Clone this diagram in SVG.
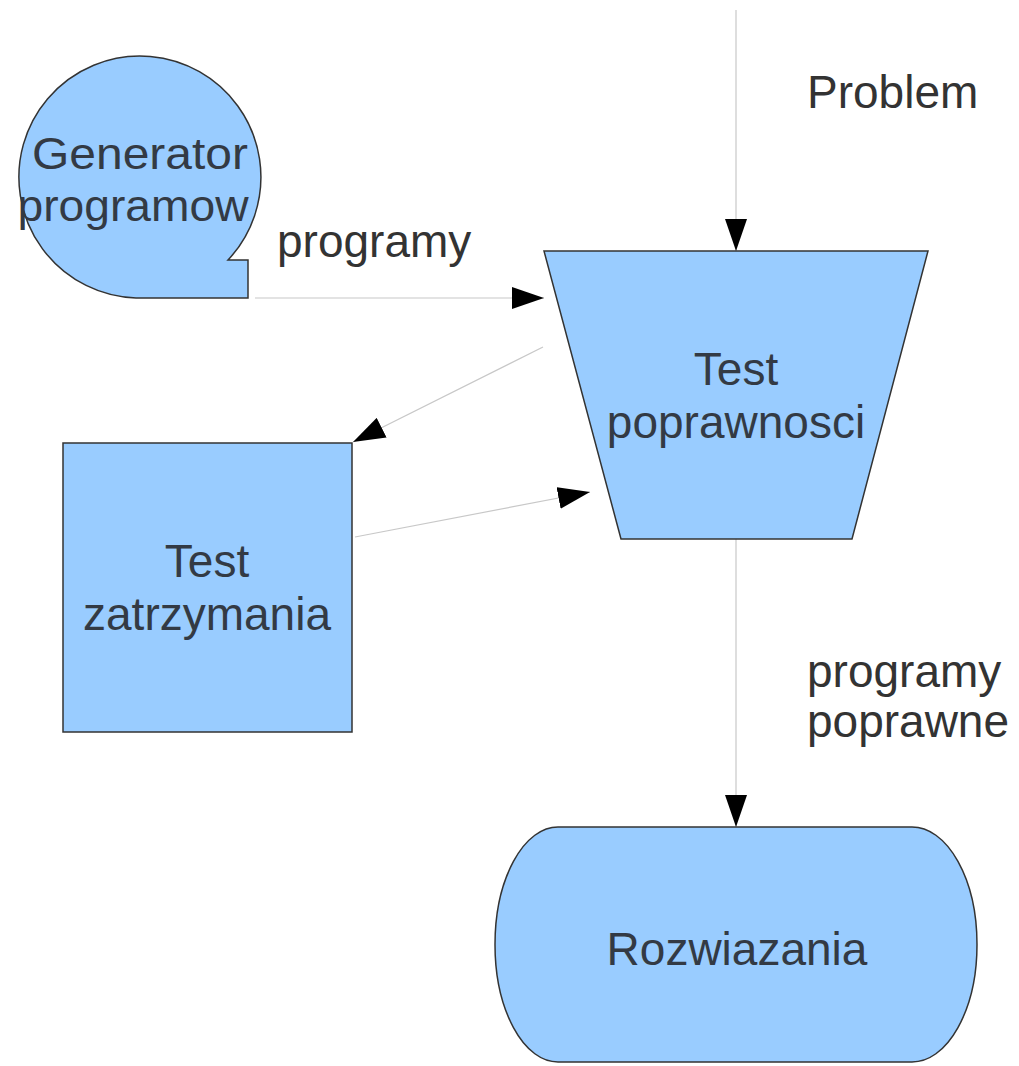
<svg xmlns="http://www.w3.org/2000/svg" width="1019" height="1066" viewBox="0 0 1019 1066">
  <style>
    .shape { fill: #99ccff; stroke: #333333; stroke-width: 1.5; }
    .node-text { font-family: "Liberation Sans", Arial, sans-serif; font-size: 46px; fill: #333a44; text-anchor: middle; }
    .label { font-family: "Liberation Sans", Arial, sans-serif; font-size: 46px; fill: #333333; }
    .edge { fill: none; stroke: #c8c8c8; stroke-width: 1.2; marker-end: url(#arrow); }
  </style>
  <defs>
    <marker id="arrow" viewBox="0 0 32 22" refX="32" refY="11" markerWidth="32" markerHeight="22" markerUnits="userSpaceOnUse" orient="auto">
      <path d="M0,0 L32,11 L0,22 Z" fill="#000000"/>
    </marker>
  </defs>
  <rect width="1019" height="1066" fill="#ffffff"/>

  <!-- connectors -->
  <g id="connectors">
    <path class="edge" d="M736,10 L736,251"/>
    <path class="edge" d="M255,298 L544,298"/>
    <path class="edge" d="M543,347 L353,442"/>
    <path class="edge" d="M355,537 L590,492"/>
    <path class="edge" d="M736,539 L736,827"/>
  </g>

  <!-- edge labels -->
  <g id="labels">
    <text class="label" x="807" y="108">Problem</text>
    <text class="label" x="277" y="257">programy</text>
    <text class="label" x="807" y="687">programy</text>
    <text class="label" x="807" y="737">poprawne</text>
  </g>

  <!-- sequential-access storage: program generator -->
  <g id="generator">
    <path class="shape" d="M136,298 L248,298 L248,260 L228,260 A121,121 0 1 0 136,298 Z"/>
    <text class="node-text" x="140" y="169" textLength="216" lengthAdjust="spacingAndGlyphs" style="font-size:44px">Generator</text>
    <text class="node-text" x="133" y="221" textLength="231" lengthAdjust="spacingAndGlyphs" style="font-size:44px">programow</text>
  </g>

  <!-- manual operation: correctness test -->
  <g id="test-poprawnosci">
    <path class="shape" d="M544,251 L928,251 L852,539 L621,539 Z"/>
    <text class="node-text" x="736" y="385">Test</text>
    <text class="node-text" x="736" y="438">poprawnosci</text>
  </g>

  <!-- process: halting test -->
  <g id="test-zatrzymania">
    <rect class="shape" x="63" y="443" width="289" height="289"/>
    <text class="node-text" x="207" y="577">Test</text>
    <text class="node-text" x="207" y="630">zatrzymania</text>
  </g>

  <!-- terminator: solutions -->
  <g id="rozwiazania">
    <path class="shape" d="M558,827 L912,827 A65,117.5 0 0 1 912,1062 L558,1062 A63,117.5 0 0 1 558,827 Z"/>
    <text class="node-text" x="737" y="965">Rozwiazania</text>
  </g>
</svg>
